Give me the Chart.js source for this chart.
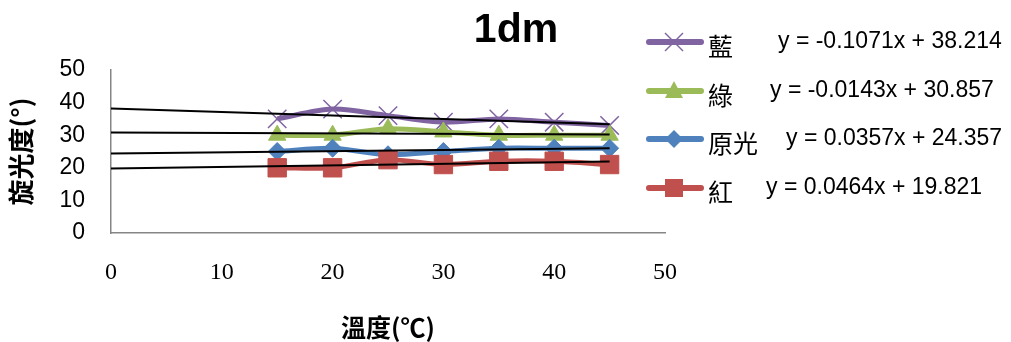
<!DOCTYPE html>
<html>
<head>
<meta charset="utf-8">
<script src="https://cdn.jsdelivr.net/npm/chart.js@4"></script>
<style>
  body { margin: 0; background: #fff; }
  #box { position: relative; width: 1011px; height: 342px; }
  #grafico { position: absolute; left: 0; top: 0; }
  .titulo { position: absolute; left: 416px; width: 200px; top: 5px; text-align: center;
    font: bold 41px "Liberation Sans", Arial, sans-serif; color: #000; }
  .item { position: absolute; left: 646px; height: 30px; }
  .item svg { position: absolute; left: 0; top: 0; }
  .nome { position: absolute; left: 62px; top: 0; line-height: 30px; white-space: nowrap;
    font: 25px "Noto Sans CJK TC", sans-serif; color: #000; }
  .eq { position: absolute; top: 0; line-height: 30px; white-space: nowrap;
    font: 23px "Liberation Sans", Arial, sans-serif; color: #000; }
</style>
</head>
<body>
<div id="box">
  <canvas id="grafico" width="1011" height="342"></canvas>
  <div class="titulo">1dm</div>
  <div id="legenda"></div>
</div>
<script>
// dados
const temperaturas = [15, 20, 25, 30, 35, 40, 45];
const series = ['藍', '綠', '原光', '紅'];
const azul = [35, 38, 36, 34, 35, 34, 33];
const verde = [30, 30, 32, 31, 30, 30, 30];
const original = [25, 26, 24, 25, 26, 26, 26];
const vermelho = [20, 20, 22.5, 21, 22, 22, 21];
const equacoes = ['y = -0.1071x + 38.214', 'y = -0.0143x + 30.857', 'y = 0.0357x + 24.357', 'y = 0.0464x + 19.821'];
// linhas de tendência: valor em x=0 e em x=45
const tendInicio = [38.214, 30.857, 24.357, 19.821];
const tendFim = [33.39, 30.21, 25.96, 21.91];
const eixoX = [0, 10, 20, 30, 40, 50];
const eixoY = [0, 10, 20, 30, 40, 50];

const cores = ['#8064A2', '#9BBB59', '#4F81BD', '#C0504D'];
const simbolos = ['crossRot', 'triangle', 'rectRot', 'rect'];
const raios = [13, 10, 9, 13];
const valores = [azul, verde, original, vermelho];

const datasets = [];
// tendência por cima de tudo
for (let i = 0; i < 4; i++) {
  datasets.push({
    data: [{ x: 0, y: tendInicio[i] }, { x: 45, y: tendFim[i] }],
    borderColor: '#000',
    borderWidth: 2,
    pointRadius: 0,
    tension: 0,
    order: 0
  });
}
for (let i = 0; i < 4; i++) {
  datasets.push({
    label: series[i],
    data: temperaturas.map((t, j) => ({ x: t, y: valores[i][j] })),
    borderColor: cores[i],
    backgroundColor: cores[i],
    borderWidth: 5,
    tension: 0.3,
    pointStyle: simbolos[i],
    pointRadius: raios[i],
    pointBackgroundColor: cores[i],
    pointBorderColor: cores[i],
    pointBorderWidth: i === 0 ? 1.5 : 1,
    order: 4 - i
  });
}

new Chart(document.getElementById('grafico'), {
  type: 'line',
  data: { datasets: datasets },
  options: {
    responsive: false,
    animation: false,
    layout: { padding: { left: 0, top: 70, right: 346, bottom: 0 } },
    plugins: { legend: { display: false }, tooltip: { enabled: false } },
    scales: {
      x: {
        type: 'linear', min: 0, max: 50,
        afterBuildTicks: s => { s.ticks = eixoX.map(v => ({ value: v })); },
        afterFit: s => { s.height = 109; },
        grid: { display: false, drawTicks: false },
        border: { color: '#868686', width: 1.5 },
        ticks: { padding: 25, color: '#000', font: { family: 'Liberation Serif', size: 24 } },
        title: { display: true, text: '溫度(℃)', color: '#000', padding: { top: 0, bottom: 0 },
          font: { family: 'Noto Sans CJK TC', size: 25, weight: 'bold' } }
      },
      y: {
        min: 0, max: 50,
        afterBuildTicks: s => { s.ticks = eixoY.map(v => ({ value: v })); },
        afterFit: s => { s.width = 111; },
        grid: { display: false, drawTicks: false },
        border: { color: '#868686', width: 1.5 },
        ticks: { padding: 26, color: '#000', font: { family: 'Liberation Sans', size: 23 } },
        title: { display: true, text: '旋光度(°)', color: '#000', padding: { top: 6, bottom: 0 },
          font: { family: 'Noto Sans CJK TC', size: 26, weight: 'bold' } }
      }
    }
  }
});

// legenda montada à mão, com as equações
const linhasLeg = [42, 91, 139, 188];
const posEq = [778, 770, 786, 766];
function marcador(i) {
  const c = cores[i];
  if (i === 0) return `<line x1="19" y1="6" x2="37" y2="24" stroke="${c}" stroke-width="1.5"/><line x1="37" y1="6" x2="19" y2="24" stroke="${c}" stroke-width="1.5"/>`;
  if (i === 1) return `<polygon points="28,5 37,22 19,22" fill="${c}"/>`;
  if (i === 2) return `<polygon points="28,6 37,15 28,24 19,15" fill="${c}"/>`;
  return `<rect x="19" y="6" width="18" height="18" fill="${c}"/>`;
}
const leg = document.getElementById('legenda');
series.forEach((s, i) => {
  const d = document.createElement('div');
  d.className = 'item';
  d.style.top = (linhasLeg[i] - 15) + 'px';
  d.innerHTML = `<svg width="58" height="30"><line x1="3" y1="15" x2="55" y2="15" stroke="${cores[i]}" stroke-width="6" stroke-linecap="round"/>${marcador(i)}</svg>` +
    `<span class="nome">${s}</span><span class="eq" style="left:${posEq[i] - 646}px">${equacoes[i]}</span>`;
  leg.appendChild(d);
});
</script>
</body>
</html>
